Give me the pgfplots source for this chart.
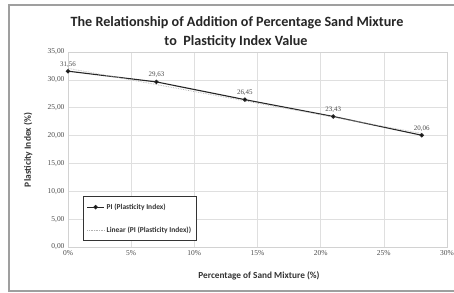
\documentclass[border=0pt]{standalone}
\usepackage{pgfplots}
\pgfplotsset{compat=1.18}
\usepackage{fontspec}
\setmainfont{Carlito}
\newfontfamily\tickfont{Liberation Serif}
\begin{document}
\begin{tikzpicture}
\useasboundingbox (0bp,0bp) rectangle (454bp,293bp);
\clip (0bp,0bp) rectangle (454bp,293bp);
\fill[white] (0bp,0bp) rectangle (454bp,293bp);
\draw[gray!75, line width=1.6bp] (9bp,2bp) rectangle (470bp,288bp);
\node[font=\bfseries\fontsize{14.2}{16}\selectfont, text=black!85] at (237bp,270bp) {The Relationship of Addition of Percentage Sand Mixture};
\node[font=\bfseries\fontsize{14.2}{16}\selectfont, text=black!85] at (236bp,251bp) {to\ \ Plasticity Index Value};
\node[font=\bfseries\fontsize{9.5}{10}\selectfont, text=black!80, rotate=90] at (28bp,143bp) {Plasticity Index (\%)};
\node[font=\bfseries\fontsize{9.3}{10}\selectfont, text=black!80] at (259bp,17bp) {Percentage of Sand Mixture (\%)};
\begin{axis}[
  at={(68bp,46bp)}, anchor=south west, scale only axis,
  width=379bp, height=195bp,
  xmin=0, xmax=30, ymin=0, ymax=35,
  xtick={0,5,...,30}, ytick={0,5,...,35},
  grid=major, grid style={gray!25, line width=0.6bp},
  axis line style={gray!35},
  tick style={draw=none},
  xticklabel={\pgfmathprintnumber{\tick}\%},
  yticklabel style={/pgf/number format/.cd, fixed, zerofill, precision=2, use comma},
  /pgf/number format/assume math mode=true,
  ticklabel style={font=\tickfont\fontsize{7.5}{9}\selectfont, text=black!70},
  legend style={at={(0.04,0.03)}, anchor=south west, draw=black!80, line width=0.9bp,
    font=\bfseries\fontsize{7.5}{8}\selectfont, text=black!80, row sep=12bp, inner xsep=3bp, inner ysep=5bp},
  legend cell align=left,
  nodes near coords,
  every node near coord/.append style={font=\tickfont\fontsize{7}{8}\selectfont, text=black!70,
    /pgf/number format/.cd, fixed, zerofill, precision=2, use comma},
]
\addplot[black!85, line width=1.1bp, mark=*, mark size=1.6bp, mark options={fill=black}] coordinates {
 (0,31.56) (7,29.63) (14,26.45) (21,23.43) (28,20.06)};
\addlegendentry{PI (Plasticity Index)}
\addplot[gray!60, densely dotted, line width=0.7bp, nodes near coords={}] coordinates {(0,32.07) (28,20.39)};
\addlegendentry{Linear (PI (Plasticity Index))}
\end{axis}
\end{tikzpicture}
\end{document}
